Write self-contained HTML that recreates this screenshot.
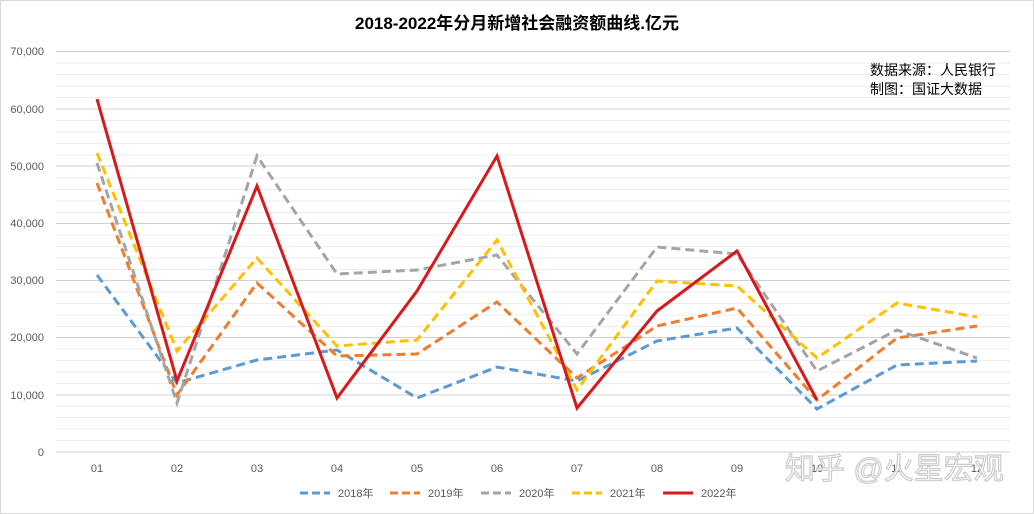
<!DOCTYPE html>
<html><head><meta charset="utf-8"><style>
html,body{margin:0;padding:0;background:#fff;}
svg{display:block;font-family:"Liberation Sans","Noto Sans CJK SC",sans-serif;}
</style></head><body>
<svg width="1034" height="514" viewBox="0 0 1034 514" xmlns="http://www.w3.org/2000/svg">
<rect x="0.5" y="0.5" width="1033" height="513" fill="#fff" stroke="#d9d9d9"/>
<text x="517" y="29" text-anchor="middle" font-size="17" font-weight="bold" fill="#000">2018-2022年分月新增社会融资额曲线.亿元</text>
<g stroke="#ececec" stroke-width="1">
<line x1="56" x2="1010" y1="440.5" y2="440.5"/><line x1="56" x2="1010" y1="429" y2="429"/><line x1="56" x2="1010" y1="417.5" y2="417.5"/><line x1="56" x2="1010" y1="406" y2="406"/>
<line x1="56" x2="1010" y1="383.5" y2="383.5"/><line x1="56" x2="1010" y1="372" y2="372"/><line x1="56" x2="1010" y1="360.5" y2="360.5"/><line x1="56" x2="1010" y1="349" y2="349"/>
<line x1="56" x2="1010" y1="326.5" y2="326.5"/><line x1="56" x2="1010" y1="315" y2="315"/><line x1="56" x2="1010" y1="303.5" y2="303.5"/><line x1="56" x2="1010" y1="292" y2="292"/>
<line x1="56" x2="1010" y1="269.5" y2="269.5"/><line x1="56" x2="1010" y1="258" y2="258"/><line x1="56" x2="1010" y1="246.5" y2="246.5"/><line x1="56" x2="1010" y1="235" y2="235"/>
<line x1="56" x2="1010" y1="212.5" y2="212.5"/><line x1="56" x2="1010" y1="201" y2="201"/><line x1="56" x2="1010" y1="189.5" y2="189.5"/><line x1="56" x2="1010" y1="178" y2="178"/>
<line x1="56" x2="1010" y1="155" y2="155"/><line x1="56" x2="1010" y1="143.5" y2="143.5"/><line x1="56" x2="1010" y1="132" y2="132"/><line x1="56" x2="1010" y1="120.5" y2="120.5"/>
<line x1="56" x2="1010" y1="97.5" y2="97.5"/><line x1="56" x2="1010" y1="86" y2="86"/><line x1="56" x2="1010" y1="74.5" y2="74.5"/><line x1="56" x2="1010" y1="63" y2="63"/>
</g>
<g stroke="#d0d0d0" stroke-width="1">
<line x1="56" x2="1010" y1="452" y2="452"/><line x1="56" x2="1010" y1="395" y2="395"/><line x1="56" x2="1010" y1="337.5" y2="337.5"/><line x1="56" x2="1010" y1="280.5" y2="280.5"/><line x1="56" x2="1010" y1="223.5" y2="223.5"/><line x1="56" x2="1010" y1="166" y2="166"/><line x1="56" x2="1010" y1="109" y2="109"/><line x1="56" x2="1010" y1="51.5" y2="51.5"/>
</g>
<g font-size="11" fill="#595959" text-anchor="end">
<text x="44" y="456">0</text><text x="44" y="399">10,000</text><text x="44" y="341">20,000</text><text x="44" y="284">30,000</text><text x="44" y="227">40,000</text><text x="44" y="170">50,000</text><text x="44" y="113">60,000</text><text x="44" y="55">70,000</text>
</g>
<g font-size="11" fill="#595959" text-anchor="middle">
<text x="97" y="472">01</text><text x="177" y="472">02</text><text x="257" y="472">03</text><text x="337" y="472">04</text><text x="417" y="472">05</text><text x="497" y="472">06</text><text x="577" y="472">07</text><text x="657" y="472">08</text><text x="737" y="472">09</text><text x="817" y="472">10</text><text x="897" y="472">11</text><text x="977" y="472">12</text>
</g>
<g fill="none" stroke-width="3" stroke-dasharray="9,5">
<polyline stroke="#5b9bd5" points="97,275 177,383 257,360 337,350 417,398 497,367 577,381 657,341 737,328 817,409 897,365 977,361"/>
<polyline stroke="#ed7d31" points="97,183 177,395 257,283 337,356 417,354 497,302 577,378 657,326 737,308 817,400 897,338 977,326"/>
<polyline stroke="#a5a5a5" points="97,163 177,403 257,156 337,274 417,270 497,255 577,354 657,247 737,254 817,371 897,330 977,358"/>
<polyline stroke="#ffc000" points="97,153 177,351 257,258 337,346 417,340 497,240 577,390 657,281 737,286 817,358 897,303 977,317"/>
</g>
<polyline fill="none" stroke="#d7191c" stroke-width="3" points="97,99 177,381 257,186 337,398 417,291 497,156 577,408 657,311 737,251 817,400"/>
<text x="870" y="75" font-size="14" fill="#000">数据来源：人民银行</text>
<text x="870" y="94" font-size="14" fill="#000">制图：国证大数据</text>
<text x="785" y="479" font-size="30" fill="#fff" stroke="#c8c8c8" stroke-width="1.2" opacity="0.9">知乎 @火星宏观</text>
<g font-size="11" fill="#595959">
<line x1="300" x2="330" y1="493" y2="493" stroke="#5b9bd5" stroke-width="3" stroke-dasharray="8,4"/><text x="338" y="497">2018年</text>
<line x1="390" x2="420" y1="493" y2="493" stroke="#ed7d31" stroke-width="3" stroke-dasharray="8,4"/><text x="428" y="497">2019年</text>
<line x1="481" x2="511" y1="493" y2="493" stroke="#a5a5a5" stroke-width="3" stroke-dasharray="8,4"/><text x="519" y="497">2020年</text>
<line x1="572" x2="602" y1="493" y2="493" stroke="#ffc000" stroke-width="3" stroke-dasharray="8,4"/><text x="610" y="497">2021年</text>
<line x1="663" x2="693" y1="493" y2="493" stroke="#d7191c" stroke-width="3"/><text x="701" y="497">2022年</text>
</g>
</svg>
</body></html>
